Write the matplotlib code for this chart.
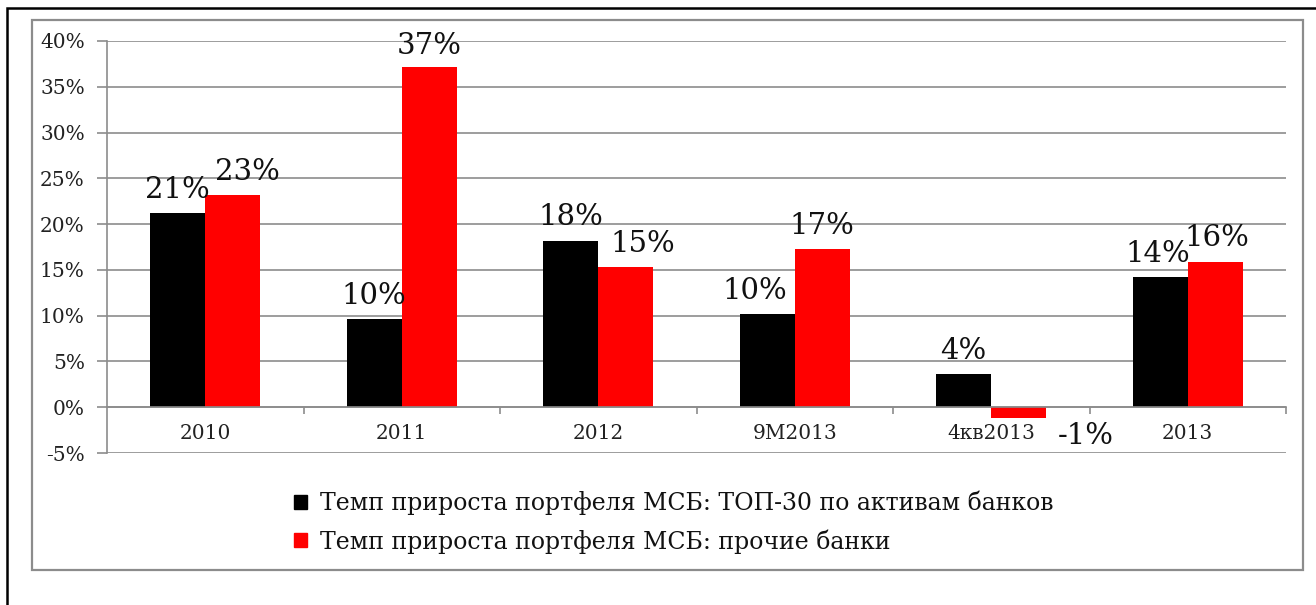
import matplotlib
matplotlib.use("Agg")
import matplotlib.pyplot as plt
from matplotlib.patches import Rectangle
from matplotlib.ticker import FixedLocator, PercentFormatter
import numpy as np

categories = ["2010", "2011", "2012", "9M2013", "4кв2013", "2013"]
top30 = [21.2, 9.6, 18.2, 10.2, 3.6, 14.2]
others = [23.2, 37.2, 15.3, 17.3, -1.2, 15.9]
top30_labels = ["21%", "10%", "18%", "10%", "4%", "14%"]
others_labels = ["23%", "37%", "15%", "17%", "-1%", "16%"]
series_names = ["Темп прироста портфеля МСБ: ТОП-30 по активам банков",
                "Темп прироста портфеля МСБ: прочие банки"]

# label offsets (points, style only): baseline offset above bar top
top30_off = [(0, 11), (0, 11), (0, 11), (-8.6, 11), (0, 11), (-2, 11)]
others_off = [(10.4, 11), (0, 9), (12.6, 11), (0, 11), (48, -26.6), (1, 11)]

W, H = 1316, 605
DPI = 100
plt.rcParams['font.family'] = ['DejaVu Serif']
plt.rcParams['axes.unicode_minus'] = False
fig = plt.figure(figsize=(W / DPI, H / DPI), dpi=DPI)

def fx(px):
    return px / W

def fy(py):
    return 1 - py / H

GRAY = '#8c8c8c'
# frames
fig.add_artist(Rectangle((fx(7), fy(700)), fx(1400), fy(8) - fy(700), transform=fig.transFigure,
                         fill=False, edgecolor='black', linewidth=1.8))
fig.add_artist(Rectangle((fx(32), fy(570)), fx(1303 - 32), fy(20) - fy(570), transform=fig.transFigure,
                         fill=False, edgecolor=GRAY, linewidth=1.6))

ax = fig.add_axes([fx(107), fy(453), fx(1286 - 107), fy(41) - fy(453)])
x = np.arange(len(categories))
bw = 0.28
b1 = ax.bar(x - bw / 2, top30, bw, color='black', label=series_names[0], zorder=3)
b2 = ax.bar(x + bw / 2, others, bw, color='#ff0000', label=series_names[1], zorder=3)

ax.set_xlim(-0.5, len(categories) - 0.5)
ax.set_ylim(-5, 40)
ax.set_yticks(np.arange(-5, 41, 5))
ax.yaxis.set_major_formatter(PercentFormatter(decimals=0))
ax.grid(axis='y', color=GRAY, linewidth=1.2, zorder=0)
ax.set_axisbelow(True)

for s in ['top', 'right']:
    ax.spines[s].set_visible(False)
ax.spines['left'].set_color(GRAY)
ax.spines['left'].set_linewidth(1.2)
ax.spines['bottom'].set_position(('data', 0))
ax.spines['bottom'].set_color(GRAY)
ax.spines['bottom'].set_linewidth(1.2)
ax.spines['bottom'].set_zorder(4)

ax.set_xticks(x)
ax.set_xticklabels(categories)
ax.xaxis.set_minor_locator(FixedLocator(np.arange(0.5, len(categories), 1.0)))
ax.tick_params(axis='x', which='major', length=0, pad=12, labelsize=14.5, labelcolor='#222222')
ax.tick_params(axis='x', which='minor', length=5, direction='out', color=GRAY, width=1.2)
ax.tick_params(axis='y', length=7, color=GRAY, width=1.2, labelsize=14.5, pad=9, labelcolor='#222222')

def label(bars, vals, texts, offs):
    for b, v, t, o in zip(bars, vals, texts, offs):
        xc = b.get_x() + b.get_width() / 2
        ax.annotate(t, (xc, max(v, 0)), xytext=o, textcoords='offset points',
                    ha='center', va='baseline', fontsize=21, color='#111111', zorder=5)

label(b1, top30, top30_labels, top30_off)
label(b2, others, others_labels, others_off)

handles = [Rectangle((0, 0), 1, 1, color='black'), Rectangle((0, 0), 1, 1, color='#ff0000')]
fig.legend(handles, series_names, loc='upper left', bbox_to_anchor=(fx(282), fy(479)),
           frameon=False, fontsize=17, handlelength=0.55, handleheight=0.55, handletextpad=0.55,
           labelspacing=0.58, borderpad=0, labelcolor='#111111')

fig.savefig('out.png', dpi=DPI)
